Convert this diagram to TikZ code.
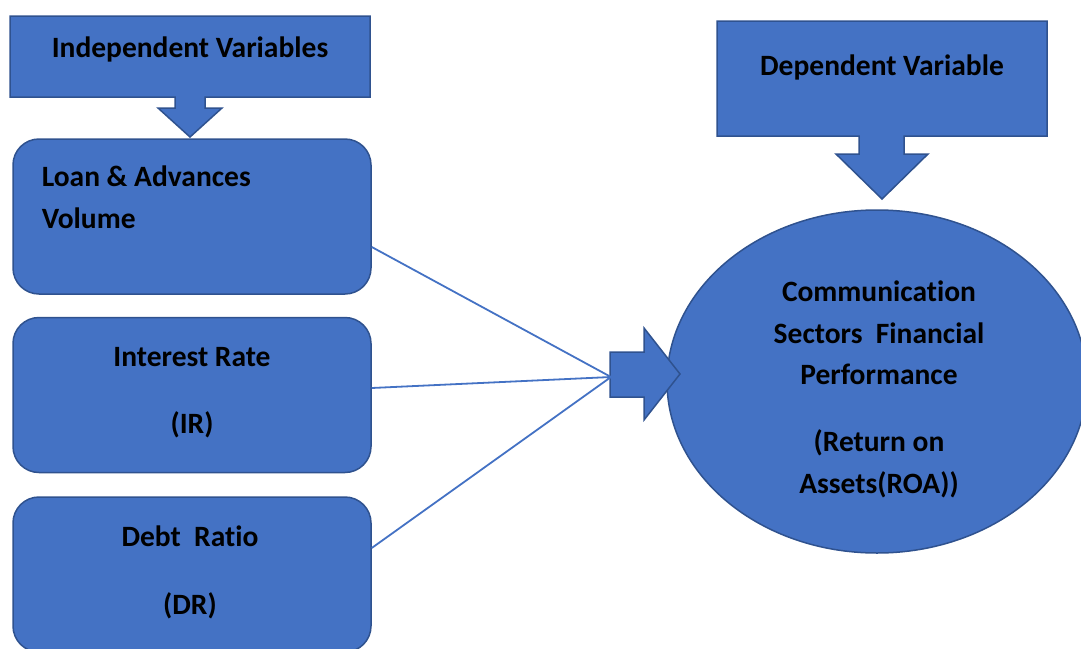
\documentclass[tikz,border=0pt]{standalone}
\usepackage{fontspec}
\setmainfont{Carlito}[Ligatures=NoCommon]
\usetikzlibrary{positioning, shapes.geometric}

\definecolor{boxblue}{HTML}{4472C4}
\definecolor{boxedge}{HTML}{2F528F}

\begin{document}
\begin{tikzpicture} [x=1pt, y=-1pt,
			node distance = 22pt,
			font=\fontsize{29.5}{41.5}\selectfont\bfseries,
			varbox/.style={draw=boxedge, fill=boxblue, line width=1.5pt,
				rounded corners=26pt, minimum width=358pt,
				minimum height=155pt, inner sep=0pt},
			blockarrow/.style={draw=boxedge, fill=boxblue, line width=1.5pt},
			link/.style={draw=boxblue, line width=1.8pt},
		]

		\useasboundingbox (0,0) rectangle (1081,648);
		\clip (0,0) rectangle (1081,648);

		% Heading callouts
		\path [blockarrow] (10,16) -- (370,16) -- (370,97) -- (205,97)
			-- (205,108) -- (222,108) -- (190,137) -- (158,108)
			-- (175,108) -- (175,97) -- (10,97) -- cycle;
		\node (indep) at (190,49) {Independent Variables};

		\path [blockarrow] (717,21) -- (1047,21) -- (1047,136) -- (904,136)
			-- (904,154) -- (928,154) -- (882,199) -- (836,154)
			-- (859,154) -- (859,136) -- (717,136) -- cycle;
		\node (dep) at (882,67) {Dependent Variable};

		% Independent variables
		\node (lav) [varbox] at (192,216.5) {};
		\node (ir) [varbox,
			below = of lav] {};
		\node (dr) [varbox,
			below = 23pt of ir] {};

		\node (lavtext) [align=left, anchor=west]
			at ([xshift=26pt, yshift=19pt]lav.west)
			{Loan \& Advances\\Volume};
		\node (irtext) [align=center]
			at ([yshift=2.5pt]ir.center) {Interest Rate\\[26pt](IR)};
		\node (drtext) [align=center]
			at ([xshift=-2pt, yshift=2pt]dr.center) {Debt\ \ Ratio\\[26pt](DR)};

		% Dependent variable
		\node (roa) [ellipse, draw=boxedge, fill=boxblue, line width=1.5pt,
			inner sep=0pt,
			minimum width=420pt, minimum height=343pt] at (877,381.5) {};
		\node (roatext) [align=center] at ([xshift=2pt, yshift=-8pt]roa.center)
			{Communication\\Sectors\ \ Financial\\Performance\\[25.5pt]%
			(Return on\\Assets(ROA))};

		% Arrow into the ellipse
		\coordinate (join) at (611,377);
		\path [blockarrow] (610,352) -- (644,352) -- (644,328) -- (680,374)
			-- (644,420) -- (644,397) -- (610,397) -- cycle;

		% Links
		\path [link]
		([yshift=-30.5pt]lav.east) -- (join)
		([yshift=7pt]ir.east) -- (join)
		([yshift=26.5pt]dr.east) -- (join);
	\end{tikzpicture}
\end{document}
